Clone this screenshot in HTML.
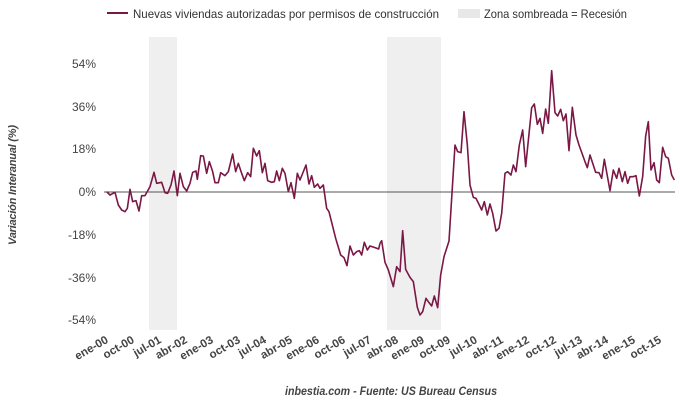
<!DOCTYPE html>
<html><head><meta charset="utf-8"><style>
body{margin:0;background:#fff;}
svg text{font-family:"Liberation Sans",sans-serif;}
</style></head><body>
<svg width="680" height="404" xmlns="http://www.w3.org/2000/svg">
<rect width="680" height="404" fill="#fff"/>
<rect x="149" y="37" width="28" height="293" fill="#efefef"/>
<rect x="387" y="37" width="54" height="293" fill="#efefef"/>
<line x1="104" y1="192" x2="675" y2="192" stroke="#555" stroke-width="1"/>
<g font-size="12" fill="#444" text-anchor="end">
<text x="96" y="68">54%</text><text x="96" y="111">36%</text><text x="96" y="153">18%</text>
<text x="96" y="196">0%</text><text x="96" y="239">-18%</text><text x="96" y="282">-36%</text><text x="96" y="324">-54%</text>
</g>
<text transform="translate(16,185) rotate(-90)" font-size="11" font-style="italic" font-weight="bold" fill="#444" text-anchor="middle" textLength="120">Variación Interanual (%)</text>
<g font-size="11.5" fill="#444" text-anchor="end" font-weight="bold">
<text transform="translate(109,342) rotate(-30)">ene-00</text>
<text transform="translate(135,342) rotate(-30)">oct-00</text>
<text transform="translate(162,342) rotate(-30)">jul-01</text>
<text transform="translate(188,342) rotate(-30)">abr-02</text>
<text transform="translate(214,342) rotate(-30)">ene-03</text>
<text transform="translate(241,342) rotate(-30)">oct-03</text>
<text transform="translate(267,342) rotate(-30)">jul-04</text>
<text transform="translate(293,342) rotate(-30)">abr-05</text>
<text transform="translate(320,342) rotate(-30)">ene-06</text>
<text transform="translate(346,342) rotate(-30)">oct-06</text>
<text transform="translate(372,342) rotate(-30)">jul-07</text>
<text transform="translate(399,342) rotate(-30)">abr-08</text>
<text transform="translate(425,342) rotate(-30)">ene-09</text>
<text transform="translate(451,342) rotate(-30)">oct-09</text>
<text transform="translate(478,342) rotate(-30)">jul-10</text>
<text transform="translate(504,342) rotate(-30)">abr-11</text>
<text transform="translate(530,342) rotate(-30)">ene-12</text>
<text transform="translate(557,342) rotate(-30)">oct-12</text>
<text transform="translate(583,342) rotate(-30)">jul-13</text>
<text transform="translate(609,342) rotate(-30)">abr-14</text>
<text transform="translate(636,342) rotate(-30)">ene-15</text>
<text transform="translate(662,342) rotate(-30)">oct-15</text>
</g>
<g fill="none" stroke="#7a1745" stroke-width="1.6" stroke-linejoin="round">
<polyline vector-effect="non-scaling-stroke" transform="translate(90,30) scale(0.33333)" points="50,485 60,495 75,487 85,525 95,540 105,545 112,535 120,478 128,515 138,512 147,543 155,497 165,497 180,470 192,427 200,460 215,457 225,488 233,490 243,465 252,423 262,497 270,430 280,470 290,483 300,460 308,427 318,423 322,448 332,377 340,378 350,430 358,395 368,425 375,458 385,458 392,428 405,437 415,425 428,372 437,425 445,400 455,430 463,452 473,428 482,440 490,355 500,378 508,362 517,428 525,400 533,452 545,457 553,455 560,423 568,452 577,415 585,430 595,485 603,458 613,505 622,430 630,450 648,405 657,462 665,437 673,472 683,462 690,475 700,465 710,535 717,545 737,625 752,675 762,683 771,707 780,648 790,675 800,665 808,662 815,675 823,637 832,660 840,648 855,653 866,657 870,640"/>
<polyline vector-effect="non-scaling-stroke" transform="translate(380,30) scale(0.33333)" points="0,640 5,632 15,697 25,720 40,770 50,710 60,725 68,602 77,718 90,742 100,755 112,832 120,855 128,845 138,805 147,818 155,828 163,798 173,833 182,735 192,680 207,633 225,345 233,365 243,368 252,245 262,345 270,465 280,502 288,505 298,525 305,540 313,515 322,555 330,522 338,550 348,603 357,595 365,550 375,430 383,425 393,435 400,405 408,425 418,345 428,300 437,410 455,233 463,222 472,283 480,265 488,310 497,237 505,280 515,122 525,248 533,258 542,238 550,272 558,252 567,362 577,232 588,315 597,345 615,395 622,413 630,375 647,427 657,428 665,445 673,388 690,482 700,420 710,445 717,415 727,455 735,425 743,460 750,440 760,440 768,437 778,498 788,440 797,318 805,275 813,420 822,398 830,450 838,458 848,352 857,380 865,385 875,435 883,450"/>
</g>
<line x1="107" y1="13" x2="128" y2="13" stroke="#7a1745" stroke-width="2"/>
<text x="133" y="18" font-size="12" fill="#333" textLength="306" lengthAdjust="spacingAndGlyphs">Nuevas viviendas autorizadas por permisos de construcción</text>
<rect x="458" y="9" width="22" height="9" fill="#e8e8e8"/>
<text x="484" y="18" font-size="12" fill="#333" textLength="143" lengthAdjust="spacingAndGlyphs">Zona sombreada = Recesión</text>
<text x="285" y="395" font-size="11.5" font-style="italic" font-weight="bold" fill="#444" textLength="212" lengthAdjust="spacingAndGlyphs">inbestia.com - Fuente: US Bureau Census</text>
</svg>
</body></html>
